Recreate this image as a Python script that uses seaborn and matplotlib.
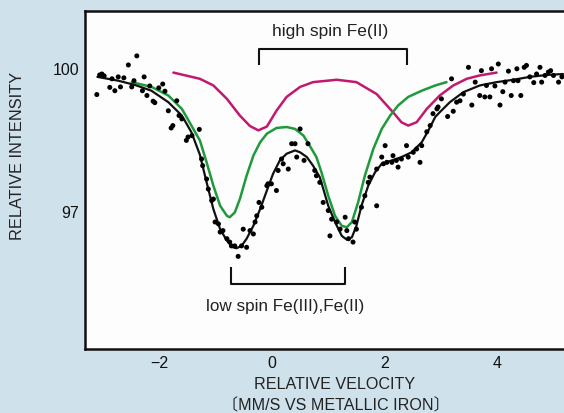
import numpy as np
import pandas as pd
import matplotlib
matplotlib.use("Agg")
import matplotlib.pyplot as plt
import seaborn as sns

# ---------------- data ----------------
# measured points: velocity (mm/s) and relative intensity (%)
data_v = [-3.11, -3.06, -3.02, -2.98, -2.88, -2.84, -2.79, -2.73, -2.69, -2.63,
          -2.55, -2.40, -2.49, -2.45, -2.30, -2.27, -2.22, -2.17, -2.11, -2.08,
          -2.01, -1.94, -1.90, -1.84, -1.79, -1.76, -1.69, -1.65, -1.60, -1.52,
          -1.49, -1.42, -1.29, -1.25, -1.23, -1.16, -1.13, -1.07, -1.04, -1.01,
          -0.95, -0.92, -0.87, -0.80, -0.75, -0.72, -0.66, -0.60, -0.54, -0.51,
          -0.45, -0.39, -0.33, -0.30, -0.27, -0.23, -0.18, -0.09, -0.07, -0.01,
          0.08, 0.11, 0.17, 0.20, 0.29, 0.35, 0.41, 0.44, 0.50, 0.57,
          0.64, 0.76, 0.79, 0.85, 0.91, 1.00, 1.06, 1.03, 1.15, 1.21,
          1.30, 1.33, 1.36, 1.44, 1.47, 1.50, 1.59, 1.65, 1.71, 1.74,
          1.86, 1.86, 1.95, 1.98, 2.01, 2.04, 2.13, 2.15, 2.21, 2.24,
          2.30, 2.39, 2.42, 2.51, 2.57, 2.63, 2.66, 2.75, 2.81, 2.86,
          2.93, 2.95, 3.01, 3.12, 3.19, 3.22, 3.28, 3.34, 3.40, 3.49,
          3.55, 3.61, 3.69, 3.72, 3.78, 3.81, 3.87, 3.90, 3.96, 4.02,
          4.05, 4.10, 4.14, 4.20, 4.25, 4.29, 4.35, 4.37, 4.42, 4.48,
          4.52, 4.58, 4.65, 4.70, 4.76, 4.79, 4.85, 4.91, 4.95, 5.00,
          5.09, 5.15]
data_i = [99.44, 99.85, 99.87, 99.83, 99.59, 99.77, 99.52, 99.81, 99.60, 99.79,
          100.06, 100.25, 99.60, 99.73, 99.52, 99.81, 99.42, 99.62, 99.30, 99.27,
          99.58, 99.66, 99.51, 99.10, 98.74, 98.79, 99.31, 99.00, 98.93, 98.48,
          98.55, 98.58, 98.71, 98.09, 97.95, 97.67, 97.46, 97.22, 97.25, 96.77,
          96.73, 96.56, 96.59, 96.42, 96.35, 96.27, 96.27, 96.05, 96.27, 96.62,
          96.24, 96.59, 96.52, 96.77, 96.90, 97.18, 97.08, 97.53, 97.57, 97.57,
          97.43, 97.85, 98.09, 97.99, 97.88, 98.41, 98.41, 98.13, 98.72, 98.06,
          98.41, 97.85, 97.74, 97.60, 97.18, 97.01, 96.83, 96.48, 96.77, 96.62,
          96.87, 96.59, 96.42, 96.35, 96.77, 96.62, 97.08, 97.32, 97.60, 97.71,
          97.11, 97.88, 98.13, 97.99, 98.37, 98.02, 98.02, 98.16, 98.06, 97.92,
          98.09, 98.37, 98.13, 98.23, 98.30, 98.02, 98.37, 98.66, 98.79, 99.04,
          99.14, 99.18, 99.35, 98.98, 99.77, 99.09, 99.28, 99.31, 99.45, 100.01,
          99.22, 99.70, 99.42, 99.94, 99.39, 99.63, 99.39, 99.98, 99.62, 100.08,
          99.22, 99.50, 99.70, 99.93, 99.42, 99.73, 99.98, 99.73, 99.42, 100.01,
          100.05, 99.81, 99.69, 99.87, 100.01, 99.70, 99.84, 99.91, 99.94, 99.84,
          99.70, 99.81]

# total fit (black)
fit_v = [-3.10, -2.73, -2.43, -2.14, -1.84, -1.60, -1.43, -1.28, -1.16, -1.04,
         -0.92, -0.80, -0.69, -0.63, -0.54, -0.45, -0.33, -0.21, -0.09, 0.02,
         0.14, 0.26, 0.41, 0.50, 0.62, 0.73, 0.85, 1.00, 1.12, 1.24,
         1.33, 1.42, 1.50, 1.59, 1.71, 1.83, 1.95, 2.13, 2.30, 2.48,
         2.66, 2.78, 2.90, 2.98, 3.16, 3.40, 3.69, 3.99, 4.29, 4.58,
         4.88, 5.17]
fit_i = [99.81, 99.73, 99.64, 99.52, 99.28, 99.00, 98.65, 98.18, 97.60, 97.04,
         96.62, 96.38, 96.24, 96.22, 96.27, 96.42, 96.69, 97.04, 97.43, 97.78,
         98.06, 98.20, 98.27, 98.23, 98.13, 97.95, 97.71, 97.11, 96.77, 96.48,
         96.40, 96.45, 96.69, 97.11, 97.53, 97.81, 97.99, 98.06, 98.13, 98.23,
         98.44, 98.69, 98.97, 99.07, 99.28, 99.49, 99.63, 99.70, 99.75, 99.81,
         99.85, 99.87]

# low spin Fe(III), Fe(II) doublet (green)
low_v = [-2.49, -2.14, -1.84, -1.60, -1.43, -1.28, -1.16, -1.04, -0.92, -0.80,
         -0.75, -0.66, -0.57, -0.45, -0.33, -0.21, -0.09, 0.08, 0.26, 0.41,
         0.56, 0.67, 0.79, 0.88, 1.00, 1.12, 1.24, 1.33, 1.42, 1.53,
         1.65, 1.80, 1.95, 2.10, 2.24, 2.42, 2.66, 2.90, 3.10]
low_i = [99.70, 99.60, 99.42, 99.14, 98.79, 98.48, 98.02, 97.53, 97.11, 96.90,
         96.87, 96.97, 97.25, 97.74, 98.16, 98.44, 98.62, 98.74, 98.76, 98.72,
         98.58, 98.37, 98.13, 97.81, 97.32, 96.90, 96.69, 96.66, 96.77, 97.18,
         97.74, 98.30, 98.72, 99.00, 99.21, 99.39, 99.52, 99.63, 99.70]

# high spin Fe(II) doublet (magenta)
high_v = [-1.75, -1.28, -1.04, -0.80, -0.57, -0.39, -0.24, -0.09, 0.08, 0.26,
          0.50, 0.73, 1.15, 1.50, 1.86, 2.15, 2.30, 2.42, 2.57, 2.75,
          2.98, 3.22, 3.46, 3.69, 3.99]
high_i = [99.90, 99.77, 99.63, 99.35, 99.00, 98.78, 98.69, 98.77, 99.10, 99.39,
          99.60, 99.70, 99.75, 99.70, 99.45, 99.07, 98.86, 98.79, 98.86, 99.14,
          99.42, 99.63, 99.77, 99.84, 99.90]

# bracket annotations (line positions)
high_bracket_v = [-0.23, 2.40]
high_bracket_y = [100.40, 100.06]
low_bracket_v = [-0.73, 1.30]
low_bracket_y = [95.47, 95.83]

x_ticks = [-3, -2, -1, 0, 1, 2, 3, 4, 5]
x_ticklabels = ["", "\u22122", "", "0", "", "2", "", "4", ""]
y_ticks = [97, 100]
y_ticklabels = ["97", "100"]

# ---------------- figure ----------------
sns.set_theme(style="white")
plt.rcParams['font.family'] = ['Liberation Sans', 'DejaVu Sans', 'Noto Sans CJK JP']

bg = '#cfe1eb'
fig = plt.figure(figsize=(5.64, 4.14), dpi=100, facecolor=bg)
W, H = 564, 414
ax = fig.add_axes([85 / W, 1 - 350 / H, (576 - 85) / W, (350 - 12) / H])
ax.set_facecolor('#fcfdfc')

pts = pd.DataFrame({"v": data_v, "i": data_i})
fit = pd.DataFrame({"v": fit_v, "i": fit_i})
low = pd.DataFrame({"v": low_v, "i": low_i})
high = pd.DataFrame({"v": high_v, "i": high_i})

sns.lineplot(data=high, x="v", y="i", ax=ax, color='#c2186f', lw=1.8,
             sort=False, estimator=None)
sns.lineplot(data=low, x="v", y="i", ax=ax, color='#1e9a3c', lw=1.8,
             sort=False, estimator=None)
sns.lineplot(data=fit, x="v", y="i", ax=ax, color='#111111', lw=1.6,
             sort=False, estimator=None)
sns.scatterplot(data=pts, x="v", y="i", ax=ax, color='black', s=13,
                edgecolor='none', zorder=5)

# brackets
bk = dict(color='#111111', lw=1.5, solid_capstyle='butt')
ax.plot([high_bracket_v[0], high_bracket_v[0], high_bracket_v[1], high_bracket_v[1]],
        [high_bracket_y[1], high_bracket_y[0], high_bracket_y[0], high_bracket_y[1]], **bk)
ax.plot([low_bracket_v[0], low_bracket_v[0], low_bracket_v[1], low_bracket_v[1]],
        [low_bracket_y[1], low_bracket_y[0], low_bracket_y[0], low_bracket_y[1]], **bk)
ax.text(1.03, 100.78, "high spin Fe(II)", ha='center', va='center', fontsize=12.5,
        color='#222222')
ax.text(0.23, 95.03, "low spin Fe(III),Fe(II)", ha='center', va='center', fontsize=12.3,
        color='#222222')

ax.set_xlim(-3.32, 5.40)
ax.set_ylim(94.11, 101.19)
ax.set_xticks(x_ticks)
ax.set_xticklabels(x_ticklabels)
ax.set_yticks(y_ticks)
ax.set_yticklabels(y_ticklabels)
ax.tick_params(direction='in', length=7, width=1.5, labelsize=11.5,
               colors='#111111', pad=4)
ax.set_xlabel("")
ax.set_ylabel("")
for s in ax.spines.values():
    s.set_color('#111111')
    s.set_linewidth(1.8)

fig.text(18 / W, 1 - 156 / H, "RELATIVE INTENSITY", rotation=90, ha='center',
         va='center', fontsize=11.8, color='#222222')
fig.text(335 / W, 1 - 385 / H, "RELATIVE VELOCITY", ha='center', va='center',
         fontsize=11.6, color='#222222')
fig.text(336 / W, 1 - 406 / H, "\u3014MM/S VS METALLIC IRON\u3015", ha='center',
         va='center', fontsize=11.6, color='#222222')

fig.savefig("out.png", dpi=100, facecolor=bg)
